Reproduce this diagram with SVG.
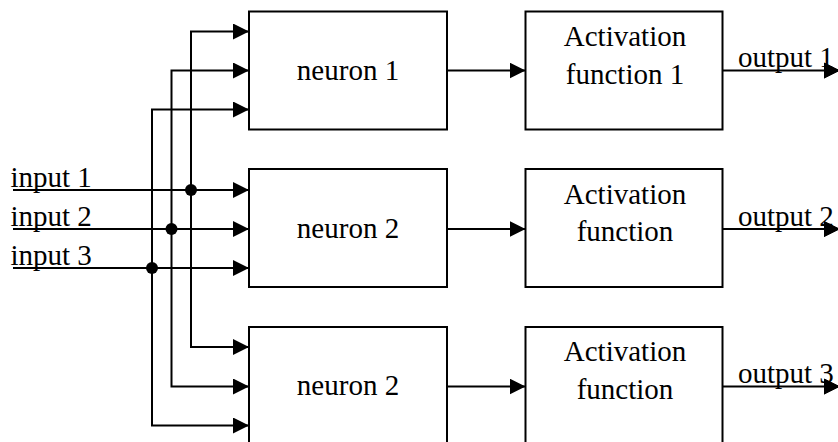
<svg xmlns="http://www.w3.org/2000/svg" width="838" height="442" viewBox="0 0 838 442">
  <style>
    .box { fill: #fff; stroke: #000; stroke-width: 2; }
    .wire { fill: none; stroke: #000; stroke-width: 2; }
    .arrow { marker-end: url(#head); }
    .dot { fill: #000; }
    text { font-family: "Liberation Serif", "Times New Roman", serif; font-size: 29px; fill: #000; }
    .mid { text-anchor: middle; }
  </style>
  <defs>
    <marker id="head" markerUnits="userSpaceOnUse" markerWidth="16" markerHeight="16" refX="16" refY="8" orient="auto">
      <path d="M0,0 L16,8 L0,16 Z" fill="#000"/>
    </marker>
  </defs>

  <rect width="838" height="442" fill="#fff"/>

  <!-- connectors -->
  <g id="connectors">
    <!-- input lines into neuron 2 -->
    <path class="wire arrow" d="M13,190 H249"/>
    <path class="wire arrow" d="M13,229 H249"/>
    <path class="wire arrow" d="M13,268 H249"/>
    <!-- input 1 branch -->
    <path class="wire arrow" d="M191,190 V31.5 H249"/>
    <path class="wire arrow" d="M191,190 V347 H249"/>
    <!-- input 2 branch -->
    <path class="wire arrow" d="M171.5,229 V70.5 H249"/>
    <path class="wire arrow" d="M171.5,229 V386.5 H249"/>
    <!-- input 3 branch -->
    <path class="wire arrow" d="M152,268 V109.5 H249"/>
    <path class="wire arrow" d="M152,268 V425.5 H249"/>
    <!-- junction dots -->
    <circle class="dot" cx="191" cy="190" r="6"/>
    <circle class="dot" cx="171.5" cy="229" r="6"/>
    <circle class="dot" cx="152" cy="268" r="6"/>
    <!-- neuron to activation -->
    <path class="wire arrow" d="M447,70.5 H525.5"/>
    <path class="wire arrow" d="M447,229 H525.5"/>
    <path class="wire arrow" d="M447,386.5 H525.5"/>
    <!-- activation to output -->
    <path class="wire arrow" d="M722.5,70.5 H840"/>
    <path class="wire arrow" d="M722.5,229 H840"/>
    <path class="wire arrow" d="M722.5,386.5 H840"/>
  </g>

  <!-- neurons -->
  <g id="neuron1">
    <rect class="box" x="249" y="11.5" width="198" height="118"/>
    <text class="mid" x="348" y="79.5">neuron 1</text>
  </g>
  <g id="neuron2">
    <rect class="box" x="249" y="169" width="198" height="118"/>
    <text class="mid" x="348" y="238">neuron 2</text>
  </g>
  <g id="neuron3">
    <rect class="box" x="249" y="327" width="198" height="118"/>
    <text class="mid" x="348" y="395">neuron 2</text>
  </g>

  <!-- activation functions -->
  <g id="activation1">
    <rect class="box" x="525.5" y="11.5" width="197" height="118"/>
    <text class="mid" x="625" y="46">Activation</text>
    <text class="mid" x="625" y="83.5">function 1</text>
  </g>
  <g id="activation2">
    <rect class="box" x="525.5" y="169" width="197" height="118"/>
    <text class="mid" x="625" y="203.5">Activation</text>
    <text class="mid" x="625" y="241">function</text>
  </g>
  <g id="activation3">
    <rect class="box" x="525.5" y="327" width="197" height="118"/>
    <text class="mid" x="625" y="361">Activation</text>
    <text class="mid" x="625" y="398.5">function</text>
  </g>

  <!-- input labels -->
  <g id="inputs">
    <text x="10.5" y="186.5">input 1</text>
    <text x="10.5" y="225.5">input 2</text>
    <text x="10.5" y="264.5">input 3</text>
  </g>

  <!-- output labels -->
  <g id="outputs">
    <text x="738" y="66.5">output 1</text>
    <text x="738" y="225.5">output 2</text>
    <text x="738" y="382.5">output 3</text>
  </g>

  <!-- output arrowheads drawn over the labels -->
  <g id="output-heads">
    <path d="M824,62.5 L840,70.5 L824,78.5 Z" fill="#000"/>
    <path d="M824,221 L840,229 L824,237 Z" fill="#000"/>
    <path d="M824,378.5 L840,386.5 L824,394.5 Z" fill="#000"/>
  </g>
</svg>
